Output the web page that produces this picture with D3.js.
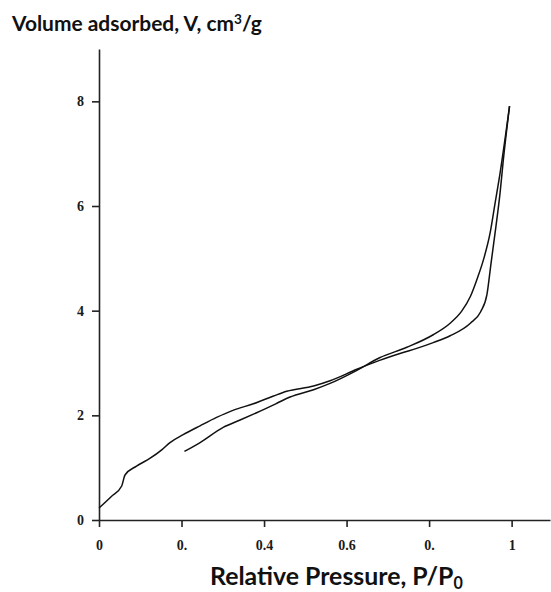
<!DOCTYPE html>
<html>
<head>
<meta charset="utf-8">
<script src="https://cdn.jsdelivr.net/npm/d3@7"></script>
<style>
  body { margin: 0; background: #fff; }
  .tick text { font-family: "Liberation Serif", serif; font-weight: bold; font-size: 14px; fill: #1a1a1a; }
  .title { font-family: Lato, "Open Sans", sans-serif; font-weight: bold; fill: #111; }
</style>
</head>
<body>
<div id="chart"></div>
<script>
// adsorption branch (starts at origin)
const adsP = [0, 0.03, 0.055, 0.063, 0.091, 0.124, 0.152, 0.172, 0.204, 0.245, 0.285, 0.326, 0.374, 0.423, 0.455,
  0.52, 0.56, 0.625, 0.68, 0.737, 0.77, 0.81, 0.851, 0.90, 0.925, 0.94, 0.95, 0.962, 0.972, 0.98, 0.995];
const adsV = [0.23, 0.45, 0.65, 0.86, 1.03, 1.18, 1.34, 1.48, 1.63, 1.80, 1.96, 2.10, 2.22, 2.37, 2.46,
  2.56, 2.66, 2.88, 3.05, 3.20, 3.28, 3.39, 3.52, 3.76, 3.98, 4.30, 4.90, 5.61, 6.25, 6.89, 7.91];

// desorption branch (ends at P/P0 ~ 0.21)
const desP = [0.207, 0.245, 0.301, 0.342, 0.382, 0.431, 0.463, 0.52, 0.56, 0.625, 0.68, 0.746, 0.81, 0.851,
  0.879, 0.90, 0.917, 0.932, 0.948, 0.96, 0.972, 0.995];
const desV = [1.31, 1.48, 1.77, 1.91, 2.05, 2.23, 2.35, 2.49, 2.61, 2.86, 3.10, 3.30, 3.54, 3.76,
  3.99, 4.27, 4.62, 4.98, 5.49, 6.06, 6.63, 7.91];

const xTicks = [0, 0.2, 0.4, 0.6, 0.8, 1];
const xTickLabels = ["0", "0.", "0.4", "0.6", "0.", "1"];
const yTicks = [0, 2, 4, 6, 8];

const width = 551, height = 592;

const svg = d3.select("#chart").append("svg")
  .attr("width", width)
  .attr("height", height);

// scales - x axis runs past 1 up to the right edge
const x = d3.scaleLinear().domain([0, 1.093]).range([99, 550]);
const y = d3.scaleLinear().domain([0, 9]).range([520, 49]);

// axes
const xAxis = svg.append("g")
  .attr("transform", `translate(0,${y(0)})`)
  .call(d3.axisBottom(x).tickValues(xTicks).tickSize(7).tickSizeOuter(0)
    .tickFormat((d, i) => xTickLabels[i]));
xAxis.selectAll("text").attr("dy", "1.45em");

const yAxis = svg.append("g")
  .attr("transform", `translate(${x(0)},0)`)
  .call(d3.axisLeft(y).tickValues(yTicks).tickSize(7).tickSizeOuter(0));
yAxis.selectAll("text").attr("x", -15);

svg.selectAll(".domain, .tick line")
  .attr("stroke", "#222")
  .attr("stroke-width", 1.6);

// curves
const line = d3.line()
  .x(d => x(d[0]))
  .y(d => y(d[1]))
  .curve(d3.curveMonotoneX);

const branches = [
  adsP.map((p, i) => [p, adsV[i]]),
  desP.map((p, i) => [p, desV[i]])
];

svg.selectAll(".branch")
  .data(branches)
  .enter()
  .append("path")
  .attr("class", "branch")
  .attr("fill", "none")
  .attr("stroke", "#111")
  .attr("stroke-width", 1.5)
  .attr("d", line);

// titles, sized to fit the width they take in the original
function fitText(t, w) {
  const len = t.node().getComputedTextLength();
  const fs = parseFloat(t.style("font-size"));
  t.style("font-size", (fs * w / len) + "px");
}

const yTitle = svg.append("text")
  .attr("class", "title")
  .attr("x", 12)
  .attr("y", 31)
  .style("font-size", "19px");
yTitle.append("tspan").text("Volume adsorbed, V, cm");
yTitle.append("tspan").attr("dy", -7).style("font-size", "0.65em").text("3");
yTitle.append("tspan").attr("dy", 7).text("/g");
fitText(yTitle, 250);

const xTitle = svg.append("text")
  .attr("class", "title")
  .attr("x", 210)
  .attr("y", 585)
  .style("font-size", "19px");
xTitle.append("tspan").text("Relative Pressure, P/P");
xTitle.append("tspan").attr("dy", 4).style("font-size", "0.65em").text("0");
fitText(xTitle, 253);
</script>
</body>
</html>
